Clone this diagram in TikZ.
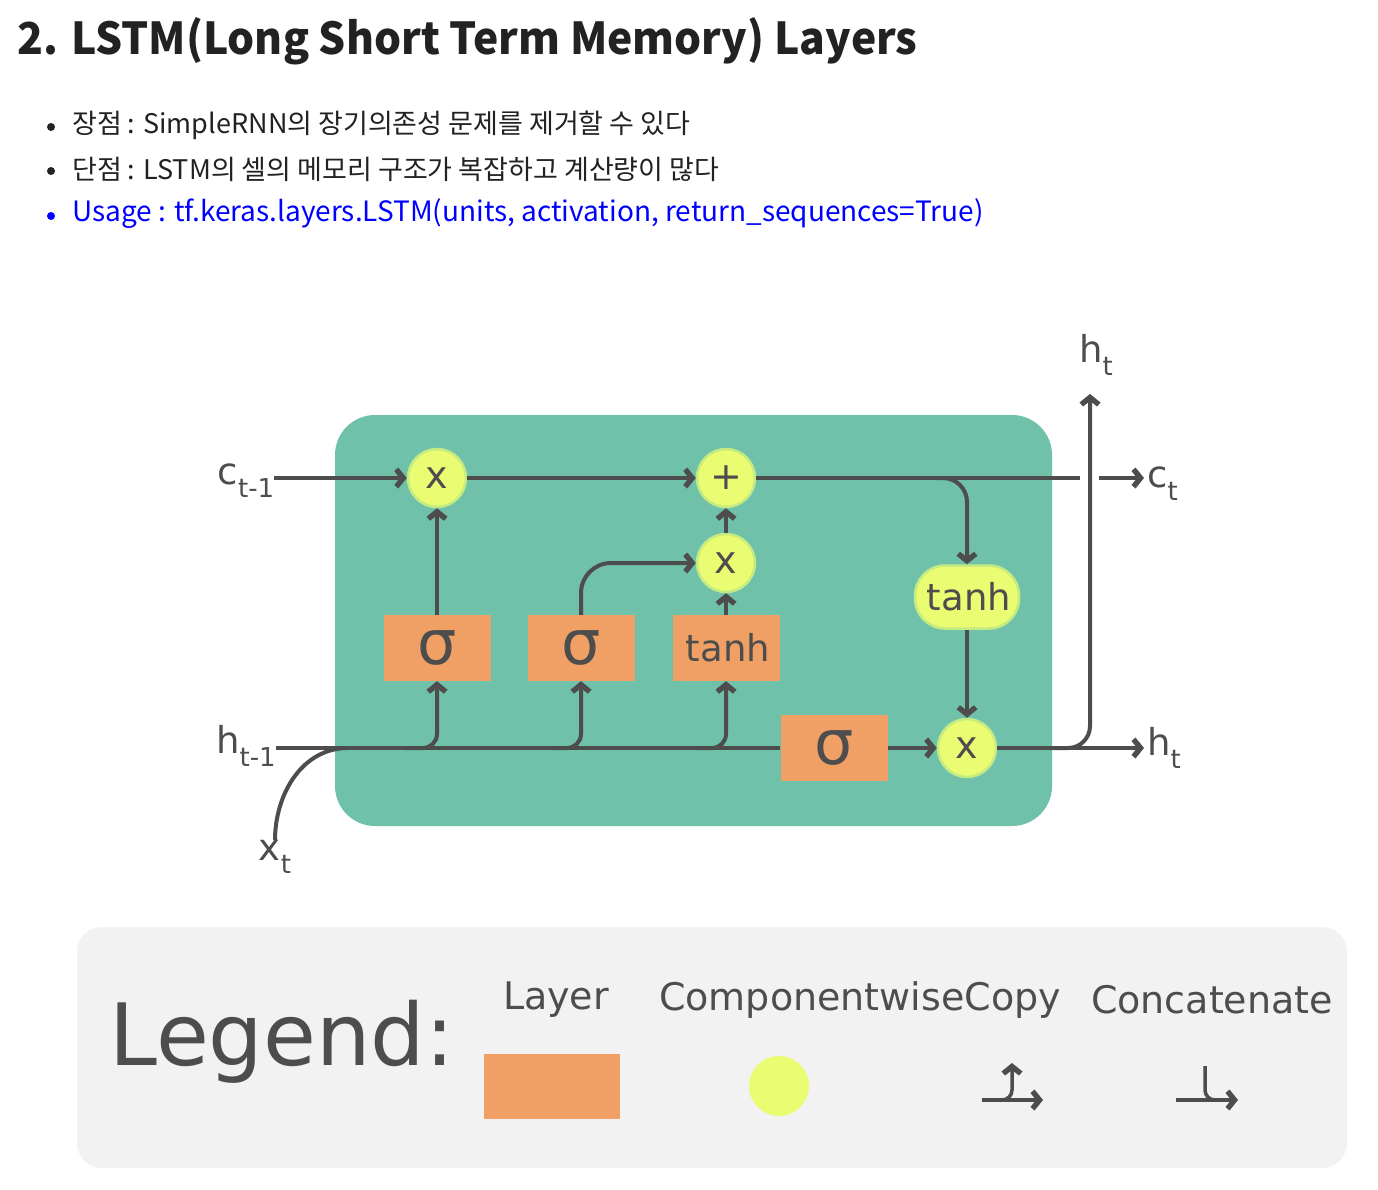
\documentclass[tikz,border=0pt]{standalone}
\usepackage{fontspec}
\setmainfont{DejaVu Sans}
\newfontfamily\kr{Noto Sans CJK KR}
\usetikzlibrary{arrows.meta,shapes.geometric}
\definecolor{cellg}{HTML}{6FC1A9}
\definecolor{yel}{HTML}{E9FC72}
\definecolor{ora}{HTML}{F0A064}
\definecolor{dk}{HTML}{4D4D4D}
\definecolor{legbg}{HTML}{F2F2F2}
\definecolor{ttl}{HTML}{222222}
\definecolor{lnk}{HTML}{0000FF}
\pgfdeclarearrow{
  name=Chev,
  setup code={
    \pgfarrowssettipend{0pt}
    \pgfarrowssetlineend{-3.5pt}
    \pgfarrowssetbackend{-12.5pt}
    \pgfarrowssetvisualbackend{-7pt}
    \pgfarrowshullpoint{0pt}{0pt}
    \pgfarrowshullpoint{-12.5pt}{10.5pt}
    \pgfarrowshullpoint{-12.5pt}{-10.5pt}
  },
  drawing code={
    \pgfsetfillcolor{dk}
    \pgfpathmoveto{\pgfpointorigin}
    \pgfpathlineto{\pgfpoint{-8.5pt}{10.5pt}}
    \pgfpathlineto{\pgfpoint{-12.5pt}{7pt}}
    \pgfpathlineto{\pgfpoint{-7pt}{0pt}}
    \pgfpathlineto{\pgfpoint{-12.5pt}{-7pt}}
    \pgfpathlineto{\pgfpoint{-8.5pt}{-10.5pt}}
    \pgfpathclose
    \pgfusepathqfill
  }
}
\tikzset{
  ln/.style={draw=dk,line width=4pt},
  arr/.style={ln,-Chev},
  sarr/.style={draw=dk,line width=3.5pt,-Chev},
  opc/.style={circle,fill=yel,draw=yel!70!cellg,line width=2.5pt,minimum size=58pt,inner sep=0pt,text=dk,font=\fontsize{38}{38}\selectfont},
  layer/.style={rectangle,fill=ora,minimum width=107pt,minimum height=66pt,inner sep=0pt,text=dk},
  lbl/.style={text=dk,font=\fontsize{37}{37}\selectfont,inner sep=0pt},
  bul/.style={anchor=west,inner sep=0pt,font=\kr\fontsize{27}{27}\selectfont},
  dot/.style={circle,inner sep=0pt,minimum size=8pt}
}
\begin{document}
\begin{tikzpicture}[x=1pt,y=-1pt]
\useasboundingbox[fill=white] (0,0) rectangle (1378,1190);
% title and bullets
\node[anchor=west,inner sep=0pt,text=ttl,font=\kr\bfseries\fontsize{44}{44}\selectfont] (title) at (17,41) {\scalebox{0.968}[1]{2. LSTM(Long Short Term Memory) Layers}};
\node[dot,fill=ttl] (b1d) at (51,127) {};
\node[bul,text=ttl] (b1) at (72,125) {장점 : SimpleRNN의 장기의존성 문제를 제거할 수 있다};
\node[dot,fill=ttl] (b2d) at (51,171) {};
\node[bul,text=ttl] (b2) at (72,169) {단점 : LSTM의 셀의 메모리 구조가 복잡하고 계산량이 많다};
\node[dot,fill=lnk] (b3d) at (51,216) {};
\node[bul,text=lnk,font=\kr\fontsize{28}{28}\selectfont] (b3) at (72,214) {Usage : tf.keras.layers.LSTM(units, activation, return\_sequences=True)};
% cell
\fill[cellg,rounded corners=40pt] (335,415) rectangle (1052,826);
\node[opc] (c1) at (437,478) {x};
\node[opc] (plus) at (726,478) {+};
\node[opc] (xm) at (726,563) {x};
\node[opc] (xo) at (967,748) {x};
\node[layer,font=\fontsize{62}{62}\selectfont] (s1) at (437,648) {σ};
\node[layer,font=\fontsize{62}{62}\selectfont] (s2) at (581,648) {σ};
\node[layer,font=\fontsize{37}{37}\selectfont] (tb) at (726,648) {\hspace{4pt}tanh};
\node[layer,font=\fontsize{62}{62}\selectfont] (s4) at (834,748) {σ};
\node[rectangle,rounded corners=30pt,fill=yel,draw=yel!70!cellg,line width=2.5pt,minimum width=104pt,minimum height=63pt,inner sep=0pt,text=dk,font=\fontsize{37}{37}\selectfont] (te) at (967,597) {\hspace{4pt}tanh};
% labels
\node[lbl] (cin) at (246,481) {c\raisebox{-0.35em}{\fontsize{26}{26}\selectfont t-1}};
\node[lbl] (hin) at (246,746) {h\raisebox{-0.35em}{\fontsize{26}{26}\selectfont t-1}};
\node[lbl] (xin) at (275,857) {x\raisebox{-0.35em}{\fontsize{26}{26}\selectfont t}};
\node[lbl,anchor=west] (ct) at (1147,484) {c\raisebox{-0.35em}{\fontsize{26}{26}\selectfont t}};
\node[lbl,anchor=west] (ht) at (1147,748) {h\raisebox{-0.35em}{\fontsize{26}{26}\selectfont t}};
\node[lbl] (htop) at (1096,355) {h\raisebox{-0.35em}{\fontsize{26}{26}\selectfont t}};
\coordinate (cgap) at (1080,478);
\coordinate (cres) at (1099,478);
\coordinate (hup) at (1090,394);
\coordinate (hsplit) at (1050,748);
\coordinate (b1) at (404,748);
\coordinate (b2) at (552,748);
\coordinate (b3) at (696,748);
\coordinate (cbr) at (935,478);
\coordinate (hjoin) at (348,748);
% connectors
\draw[arr] (cin.east |- c1.west) -- (c1.west);
\draw[arr] (c1.east) -- (plus.west);
\draw[ln] (plus.east) -- (cgap);
\draw[arr] (cres) -- ([xshift=-3pt]ct.west |- cres);
\draw[arr] (s1.north) -- (c1.south);
\draw[arr,rounded corners=30pt] (s2.north) |- (xm.west);
\draw[arr] (tb.north) -- (xm.south);
\draw[arr] (xm.north) -- (plus.south);
\draw[arr,rounded corners=24pt] (cbr) -| (te.north);
\draw[arr] (te.south) -- (xo.north);
\draw[ln] (hin.east |- s4.west) -- (s4.west);
\draw[ln] (xin.north) to[out=90,in=180] (hjoin);
\draw[arr,rounded corners=14pt] (b1) -| (s1.south);
\draw[arr,rounded corners=14pt] (b2) -| (s2.south);
\draw[arr,rounded corners=14pt] (b3) -| (tb.south);
\draw[arr] (s4.east) -- (xo.west);
\draw[arr] (xo.east) -- ([xshift=-3pt]ht.west |- xo.east);
\draw[arr,rounded corners=22pt] (hsplit) -| (hup);
% legend
\fill[legbg,rounded corners=25pt] (77,927) rectangle (1347,1168);
\node[text=dk,inner sep=0pt,font=\fontsize{86}{86}\selectfont] (leg) at (282,1042) {Legend:};
\node[text=dk,inner sep=0pt,font=\fontsize{38}{38}\selectfont] (lt1) at (556,1000) {Layer};
\node[text=dk,inner sep=0pt,font=\fontsize{38}{38}\selectfont] (lt2) at (860,1000) {ComponentwiseCopy};
\node[text=dk,inner sep=0pt,font=\fontsize{38}{38}\selectfont] (lt3) at (1212,1000) {Concatenate};
\node[fill=ora,minimum width=136pt,minimum height=65pt,inner sep=0pt] (lg1) at (552,1086) {};
\node[circle,fill=yel,minimum size=60pt,inner sep=0pt] (lg2) at (779,1086) {};
\coordinate (cpa) at (982,1100);
\coordinate (cpb) at (1043,1100);
\coordinate (cpc) at (998,1100);
\coordinate (cpt) at (1012,1063);
\draw[sarr] (cpa) -- (cpb);
\draw[sarr,rounded corners=10pt] (cpc) -| (cpt);
\coordinate (cca) at (1176,1100);
\coordinate (ccb) at (1238,1100);
\coordinate (cct) at (1205,1066);
\coordinate (ccm) at (1222,1100);
\draw[sarr] (cca) -- (ccb);
\draw[draw=dk,line width=3.5pt,rounded corners=10pt] (cct) |- (ccm);
\end{tikzpicture}
\end{document}
